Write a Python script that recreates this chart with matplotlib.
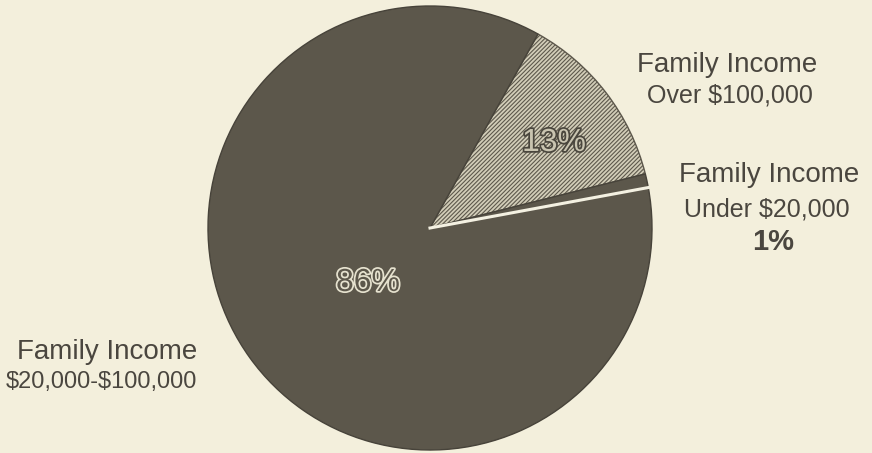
import numpy as np
import matplotlib.pyplot as plt
import matplotlib.patheffects as pe

plt.rcParams['text.parse_math'] = False
plt.rcParams['hatch.linewidth'] = 0.8

# income groups and their share of the total (%)
groups = ['Family Income\nOver $100,000', 'Family Income\nUnder $20,000', 'Family Income\n$20,000-$100,000']
shares = [13, 1, 86]
pct_labels = ['13%', '1%', '86%']

bg = '#f3efdc'
dark = '#5c574b'
ink = '#4a463f'
font = 'Liberation Sans'

fig = plt.figure(figsize=(8.72, 4.53), dpi=100, facecolor=bg)
ax = fig.add_axes([0, 0, 1, 1])
ax.set_facecolor(bg)

start = 60.9
cx, cy, r = 430, 225, 222
wedges, _ = ax.pie(shares, startangle=start, counterclock=False, center=(cx, cy), radius=r,
                   colors=['#d2cdb8', dark, dark],
                   wedgeprops=dict(edgecolor='#47433a', linewidth=1.0))
ax.set_xlim(0, 872)
ax.set_ylim(0, 453)
ax.set_aspect('equal')
ax.axis('off')
wedges[0].set_hatch('////////')
wedges[0].set_edgecolor('#5d584c')

# white separator between the 1% and 86% slices
ang = np.deg2rad(start - 360 * (shares[0] + shares[1]) / 100)
ax.plot([cx, cx + r * np.cos(ang)], [cy, cy + r * np.sin(ang)], color='#f4f1e2', lw=2.2)

# percentage labels inside the pie
ax.text(554, 453 - 143, pct_labels[0], ha='center', va='center', fontsize=23,
        family=font, color='#c9c4b0',
        path_effects=[pe.withStroke(linewidth=2.5, foreground='#4a463d')])
ax.text(368, 453 - 283, pct_labels[2], ha='center', va='center', fontsize=23,
        family=font, color=dark,
        path_effects=[pe.withStroke(linewidth=2.5, foreground='#e6e2cf')])

# outside labels
l1, l2 = groups[0].split('\n')
ax.text(727, 453 - 65, l1, ha='center', va='center', fontsize=20, family=font, color=ink)
ax.text(730, 453 - 96, l2, ha='center', va='center', fontsize=18, family=font, color=ink)

l1, l2 = groups[1].split('\n')
ax.text(769, 453 - 175, l1, ha='center', va='center', fontsize=20, family=font, color=ink)
ax.text(767, 453 - 209, l2, ha='center', va='center', fontsize=18, family=font, color=ink)
ax.text(773, 453 - 242, pct_labels[1], ha='center', va='center', fontsize=21, family=font,
        fontweight='bold', color=ink)

l1, l2 = groups[2].split('\n')
ax.text(107, 453 - 352, l1, ha='center', va='center', fontsize=20, family=font, color=ink)
ax.text(101, 453 - 382, l2, ha='center', va='center', fontsize=17, family=font, color=ink)

fig.savefig('out.png', dpi=100, facecolor=bg)
